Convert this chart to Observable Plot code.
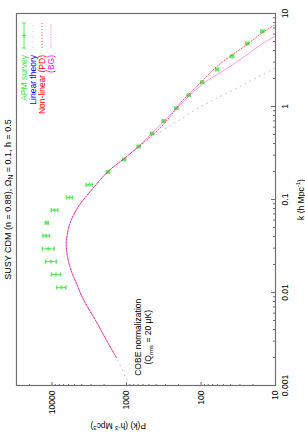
<!DOCTYPE html>
<html><head><meta charset="utf-8">
<script src="https://cdn.jsdelivr.net/npm/d3@7"></script>
<script src="https://cdn.jsdelivr.net/npm/@observablehq/plot@0.6"></script>
<style>
html,body{margin:0;padding:0;background:#fff;overflow:hidden;}
#wrap{position:relative;width:305px;height:435px;overflow:hidden;background:#fff;}
#wrap svg{position:absolute;left:0;top:0;max-width:none !important;width:435px !important;height:305px !important;transform-origin:0 0;transform:translate(0px,435px) rotate(-90deg);}
</style></head><body><div id="wrap"></div>
<script>
// ---- data ----
const titleText = "SUSY CDM (n = 0.88), ΩN = 0.1, h = 0.5";
const xLabelText = "k (h Mpc-1)";
const yLabelText = "P(k) (h-3 Mpc3)";
const annoText = ["COBE normalization", "(Qrms = 20 μK)"];
const annoK = [0.0033];
const annoP = [635];
const legendLabels = ["APM survey", "Linear theory", "Non-linear (PD)", "(BG)"];

const kTicks = [0.001, 0.01, 0.1, 1, 10];
const kTickLabels = ["0.001", "0.01", "0.1", "1", "10"];
const pTicks = [10, 100, 1000, 10000];
const pTickLabels = ["10", "100", "1000", "10000"];

// APM survey points with error bars
const kApm = [0.0113, 0.0156, 0.0215, 0.0295, 0.0407, 0.0561, 0.0767, 0.105, 0.144, 0.197, 0.269, 0.372, 0.513, 0.70, 0.96, 1.32, 1.82, 2.50, 3.48, 4.76, 6.45];
const pApm = [7520, 8870, 10350, 11250, 11970, 11720, 9250, 5824, 3162, 1774, 1072, 687, 454, 317, 214, 146, 96.6, 60.8, 38.2, 24.0, 15.0];
const pApmLo = [6540, 7720, 8790, 9400, 10810, 11190, 8360, 5310, 2880, 1694, 1024, 656, 434, 303, 204, 139, 92.3, 58.1, 36.5, 22.9, 14.3];
const pApmHi = [8640, 10190, 12190, 13470, 13250, 12270, 10240, 6390, 3470, 1857, 1122, 719, 475, 332, 224, 153, 101, 63.7, 40.0, 25.1, 15.7];

// Curve part shared by all three models (they coincide on large scales)
const kShared = [0.002, 0.003, 0.0047, 0.0088, 0.0122, 0.0163, 0.0227, 0.0315, 0.0403, 0.0566, 0.0848, 0.128, 0.2, 0.269];
const pShared = [1370, 1830, 2490, 3900, 4620, 5400, 6100, 6440, 6300, 5690, 4400, 2910, 1770, 1120];
// Linear theory (extends down to k = 0.001)
const kLinHead = [0.001];
const pLinHead = [916];
const kLinTail = [0.374, 0.424, 0.521, 0.695, 0.968, 1.19, 1.52, 2.04, 2.62];
const pLinTail = [660, 540, 368, 207, 108, 66, 36, 18, 10];
// Non-linear, Peacock & Dodds
const kPD = [0.374, 0.442, 0.566, 0.787, 1.096, 1.46, 1.95, 2.71, 3.48, 4.65, 6.2, 7.62];
const pPD = [670, 530, 370, 258, 189, 132, 92, 60.8, 40.3, 24.0, 15.1, 10];
// Non-linear, BG
const kBG = [0.374, 0.521, 0.695, 0.968, 1.29, 1.73, 2.21, 2.71, 3.62, 4.84, 5.70];
const pBG = [687, 454, 317, 209, 146, 96.6, 60.8, 40.3, 24.0, 14.4, 10];

// ---- layout / style ----
const W = 435, H = 305, mL = 49, mR = 14, mT = 16, mB = 30;
const frameW = W - mL - mR, frameH = H - mT - mB;
const cGreen = "#3de43d", cMark = "#5ae85a", cBlue = "#0000ff", cRed = "#ff0000", cMag = "#ff00ff";
const axisGray = "#707070";
const font = "'Liberation Sans', Arial, Helvetica, sans-serif";

const minorMult = [2, 3, 4, 5, 6, 7, 8, 9];
const kMinor = kTicks.slice(0, -1).flatMap(d => minorMult.map(m => m * d));
const pMinor = [10, 100, 1000, 10000].flatMap(d => minorMult.map(m => m * d)).filter(v => v < 30000);

const kLin = kLinHead.concat(kShared, kLinTail), pLin = pLinHead.concat(pShared, pLinTail);
const kPDall = kShared.concat(kPD), pPDall = pShared.concat(pPD);
const kBGall = kShared.concat(kBG), pBGall = pShared.concat(pBG);

const hline = {draw(ctx, size) { const r = Math.sqrt(size / Math.PI); ctx.moveTo(-r, 0); ctx.lineTo(r, 0); }};
const plus = {draw(ctx, size) { const r = Math.sqrt(size / Math.PI); ctx.moveTo(-r, 0); ctx.lineTo(r, 0); ctx.moveTo(0, -r); ctx.lineTo(0, r); }};

const svg = Plot.plot({
  width: W, height: H,
  marginLeft: mL, marginRight: mR, marginTop: mT, marginBottom: mB,
  style: {fontFamily: font, fontSize: "8.5px", background: "#fff", color: "#000"},
  x: {type: "log", domain: [0.001, 10]},
  y: {type: "log", domain: [10, 30000]},
  marks: [
    Plot.ruleX(kTicks, {insetTop: frameH - 4, stroke: axisGray}),
    Plot.ruleX(kMinor, {insetTop: frameH - 2, stroke: axisGray}),
    Plot.ruleY(pTicks, {insetRight: frameW - 4, stroke: axisGray}),
    Plot.ruleY(pMinor, {insetRight: frameW - 2, stroke: axisGray}),
    Plot.axisX(kTicks, {tickSize: 0, tickPadding: 6, label: null, tickFormat: d => kTickLabels[kTicks.indexOf(d)]}),
    Plot.axisY(pTicks, {tickSize: 0, tickPadding: 5, label: null, tickFormat: d => pTickLabels[pTicks.indexOf(d)]}),
    // APM survey
    Plot.ruleX(kApm, {x: kApm, y1: pApmLo, y2: pApmHi, stroke: cMark, strokeWidth: 1}),
    Plot.dot(kApm, {x: kApm, y: pApmLo, symbol: hline, r: 2, stroke: cMark, fill: "none"}),
    Plot.dot(kApm, {x: kApm, y: pApmHi, symbol: hline, r: 2, stroke: cMark, fill: "none"}),
    Plot.dot(kApm, {x: kApm, y: pApm, symbol: plus, r: 2, stroke: cMark, fill: "none", strokeOpacity: 0.9}),
    // models
    Plot.line(kLin, {x: kLin, y: pLin, curve: "catmull-rom", stroke: "#6060ff", strokeWidth: 1, strokeDasharray: "0.9,4.5", strokeOpacity: 0.45}),
    Plot.line(kPDall, {x: kPDall, y: pPDall, curve: "catmull-rom", stroke: cRed, strokeWidth: 1, strokeDasharray: "1.2,1.8", strokeOpacity: 0.65}),
    Plot.line(kBGall, {x: kBGall, y: pBGall, curve: "catmull-rom", stroke: cMag, strokeWidth: 0.8, strokeOpacity: 0.5}),
    Plot.frame({stroke: axisGray, strokeWidth: 1.2}),
    // texts
    Plot.text([titleText], {frameAnchor: "top", dy: -6, lineAnchor: "bottom", fontSize: 9}),
    Plot.text([xLabelText], {frameAnchor: "bottom", dy: 28, lineAnchor: "bottom"}),
    Plot.text([yLabelText], {frameAnchor: "left", dx: -40, rotate: -90, lineAnchor: "middle"}),
    Plot.text([annoText[0]], {x: annoK, y: annoP, lineAnchor: "bottom"}),
    Plot.text([annoText[1]], {x: annoK, y: annoP, lineAnchor: "bottom", dy: 9.5})
  ]
});
svg.style.maxWidth = "none";
svg.style.width = W + "px";
svg.style.height = H + "px";

// rich text (sub/superscripts)
const rich = {
  [titleText]: [["SUSY CDM (n = 0.88), Ω", ""], ["N", "sub"], [" = 0.1, h = 0.5", ""]],
  [xLabelText]: [["k (h Mpc", ""], ["-1", "sup"], [")", ""]],
  [yLabelText]: [["P(k) (h", ""], ["-3", "sup"], [" Mpc", ""], ["3", "sup"], [")", ""]],
  [annoText[1]]: [["(Q", ""], ["rms", "sub"], [" = 20 μK)", ""]]
};
svg.querySelectorAll("text").forEach(el => {
  const segs = rich[el.textContent];
  if (!segs) return;
  const sel = d3.select(el); sel.text(null);
  let shift = 0;
  for (const [s, kind] of segs) {
    const target = kind === "sub" ? 2.2 : kind === "sup" ? -3.2 : 0;
    const t = sel.append("tspan").attr("dy", target - shift).text(s);
    if (kind) t.attr("font-size", "72%");
    shift = target;
  }
});

// legend (key), top-right corner of the frame
const lg = d3.select(svg).append("g").attr("font-size", "8.5px").attr("font-family", font);
const legendColors = [cGreen, cBlue, cRed, cMag];
legendLabels.forEach((lab, i) => {
  const cy = mT + 8 + 9 * i;
  const tx = W - mR - 41, x1 = W - mR - 34, x2 = W - mR - 9;
  lg.append("text").attr("x", tx).attr("y", cy).attr("dy", "0.34em").attr("text-anchor", "end").attr("fill", legendColors[i]).text(lab);
  if (i === 0) {
    lg.append("line").attr("x1", x1).attr("x2", x2).attr("y1", cy).attr("y2", cy).attr("stroke", cMark);
    lg.append("line").attr("x1", x1).attr("x2", x1).attr("y1", cy - 2).attr("y2", cy + 2).attr("stroke", cMark);
    lg.append("line").attr("x1", x2).attr("x2", x2).attr("y1", cy - 2).attr("y2", cy + 2).attr("stroke", cMark);
    const xm = (x1 + x2) / 2;
    lg.append("path").attr("d", `M${xm - 2},${cy}H${xm + 2}M${xm},${cy - 2}V${cy + 2}`).attr("stroke", cMark);
  } else {
    const st = [null, {s: "#6060ff", d: "0.9,4.5", o: 0.45, w: 1}, {s: cRed, d: "1.2,1.8", o: 0.65, w: 1}, {s: cMag, d: "1.5,1", o: 0.5, w: 0.8}][i];
    lg.append("line").attr("x1", x1).attr("x2", x2).attr("y1", cy).attr("y2", cy)
      .attr("stroke", st.s).attr("stroke-dasharray", st.d).attr("stroke-opacity", st.o).attr("stroke-width", st.w);
  }
});

document.getElementById("wrap").appendChild(svg);
</script></body></html>
